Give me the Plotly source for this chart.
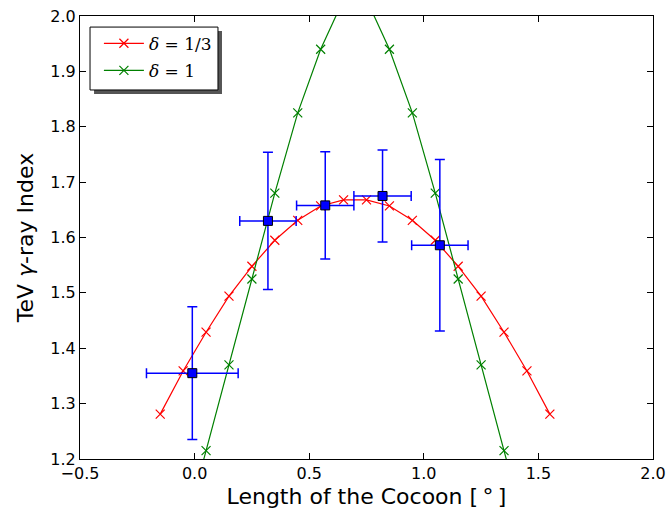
import plotly.graph_objects as go

# Model curves
x_model = [-0.15, -0.05, 0.05, 0.15, 0.25, 0.35, 0.45, 0.55, 0.65,
           0.75, 0.85, 0.95, 1.05, 1.15, 1.25, 1.35, 1.45, 1.55]
y_third = [1.281, 1.359, 1.429, 1.494, 1.548, 1.595, 1.631, 1.657, 1.668,
           1.668, 1.657, 1.631, 1.595, 1.548, 1.494, 1.429, 1.359, 1.281]
x_one = [-0.05, 0.05, 0.15, 0.25, 0.35, 0.45, 0.55, 0.65,
         0.75, 0.85, 0.95, 1.05, 1.15, 1.25, 1.35, 1.45]
y_one = [1.06, 1.215, 1.37, 1.525, 1.68, 1.825, 1.94, 2.03,
         2.03, 1.94, 1.825, 1.68, 1.525, 1.37, 1.215, 1.06]

# Observed data
x_obs = [-0.01, 0.32, 0.57, 0.82, 1.07]
y_obs = [1.355, 1.63, 1.658, 1.675, 1.586]
xerr_obs = [0.2, 0.123, 0.125, 0.125, 0.123]
yerr_obs = [0.12, 0.124, 0.097, 0.083, 0.155]

xticks = [-0.5, 0.0, 0.5, 1.0, 1.5, 2.0]
xtick_text = ["\u22120.5", "0.0", "0.5", "1.0", "1.5", "2.0"]
yticks = [1.2, 1.3, 1.4, 1.5, 1.6, 1.7, 1.8, 1.9, 2.0]

FONT = "DejaVu Sans"

fig = go.Figure()
fig.add_trace(go.Scatter(
    x=x_model, y=y_third, mode="lines+markers", name="<i>δ</i> = 1/3",
    legendgroup="a",
    line=dict(color="#ff0000", width=1.2),
    marker=dict(symbol="x-thin", size=9, line=dict(color="#ff0000", width=1.2)),
))
fig.add_trace(go.Scatter(
    x=x_one, y=y_one, mode="lines+markers", name="<i>δ</i> = 1",
    legendgroup="b",
    line=dict(color="#008000", width=1.2),
    marker=dict(symbol="x-thin", size=9, line=dict(color="#008000", width=1.2)),
))
fig.add_trace(go.Scatter(
    x=x_obs, y=y_obs, mode="markers", showlegend=False,
    marker=dict(symbol="square", size=9, color="#0000ff", line=dict(color="black", width=1)),
    error_x=dict(type="data", array=xerr_obs, color="#0000ff", thickness=1.5, width=5),
    error_y=dict(type="data", array=yerr_obs, color="#0000ff", thickness=1.5, width=5),
))

# legend frame and shadow (plot area: 573 x 443 px)
fig.add_shape(type="rect", xref="paper", yref="paper",
              x0=0.0245, x1=0.2478, y0=0.824, y1=0.966,
              fillcolor="#555555", line=dict(width=0), layer="below")
fig.add_shape(type="rect", xref="paper", yref="paper",
              x0=0.0175, x1=0.2408, y0=0.833, y1=0.975,
              fillcolor="white", line=dict(color="black", width=1), layer="below")

fig.update_layout(
    width=670, height=517,
    margin=dict(l=80, r=17, t=16, b=58),
    paper_bgcolor="white", plot_bgcolor="white",
    font=dict(family=FONT, size=16, color="black"),
    showlegend=True,
    legend=dict(x=0.033, y=0.978, xanchor="left", yanchor="top",
                bgcolor="rgba(0,0,0,0)", borderwidth=0,
                font=dict(family="DejaVu Serif", size=17),
                itemwidth=40, tracegroupgap=2, traceorder="grouped"),
    xaxis=dict(range=[-0.5, 2.0], tickvals=xticks, ticktext=xtick_text,
               ticks="inside", ticklen=6, tickcolor="black", mirror="ticks",
               showline=True, linecolor="black", linewidth=1, showgrid=False,
               zeroline=False, automargin=False, ticklabeloverflow="allow",
               title=dict(text="Length of the Cocoon [\u2009°\u2009]", font=dict(size=22), standoff=6)),
    yaxis=dict(range=[1.2, 2.0], tickvals=yticks, tickformat=".1f",
               ticks="inside", ticklen=6, tickcolor="black", mirror="ticks",
               showline=True, linecolor="black", linewidth=1, showgrid=False,
               zeroline=False, automargin=False, ticklabeloverflow="allow",
               title=dict(text="TeV <i>γ</i>-ray Index", font=dict(size=22), standoff=10)),
)

# remove the default 8px page margin so the 670x517 figure fills the window
fig.write_html("out.html", config={"displayModeBar": False},
               post_script="document.body.style.margin='0';document.body.style.overflow='hidden';")
